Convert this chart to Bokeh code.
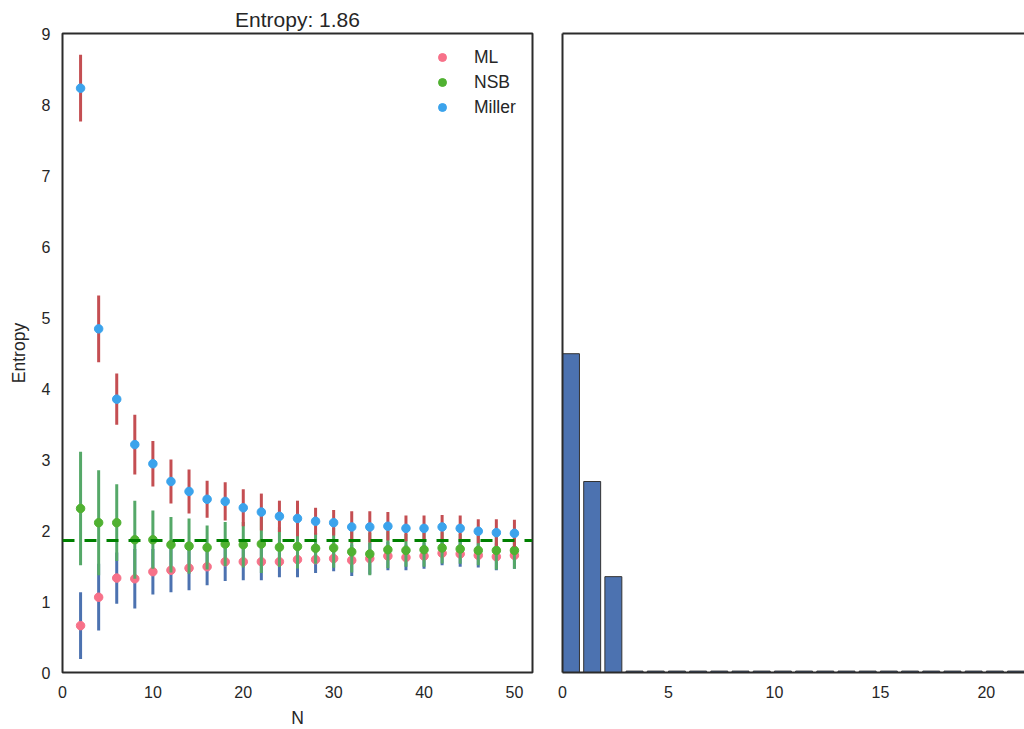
from bokeh.plotting import figure
from bokeh.models import (Range1d, Span, Legend, LegendItem, LinearAxis,
                          SingleIntervalTicker, FixedTicker, ColumnDataSource)
from bokeh.layouts import row
from bokeh.embed import file_html
from bokeh.resources import INLINE

# ---------------- data ----------------
true_entropy = 1.86
sample_sizes = [2, 4, 6, 8, 10, 12, 14, 16, 18, 20, 22, 24, 26,
                28, 30, 32, 34, 36, 38, 40, 42, 44, 46, 48, 50]
ml_mean = [0.66, 1.06, 1.33, 1.32, 1.42, 1.44, 1.47, 1.49, 1.56, 1.56, 1.56, 1.56, 1.59,
           1.59, 1.605, 1.58, 1.605, 1.64, 1.62, 1.64, 1.68, 1.67, 1.65, 1.63, 1.65]
miller_mean = [8.23, 4.84, 3.85, 3.21, 2.94, 2.69, 2.55, 2.44, 2.41, 2.32, 2.26, 2.20, 2.17,
               2.13, 2.11, 2.05, 2.05, 2.06, 2.03, 2.03, 2.05, 2.03, 1.99, 1.97, 1.96]
ml_std = [0.47, 0.47, 0.36, 0.42, 0.32, 0.31, 0.31, 0.26, 0.27, 0.26, 0.26, 0.22, 0.25,
          0.19, 0.18, 0.22, 0.22, 0.20, 0.18, 0.18, 0.17, 0.18, 0.17, 0.19, 0.19]
nsb_mean = [2.31, 2.11, 2.11, 1.87, 1.87, 1.80, 1.78, 1.76, 1.81, 1.80, 1.81, 1.765, 1.775,
            1.75, 1.755, 1.70, 1.67, 1.73, 1.72, 1.73, 1.755, 1.74, 1.72, 1.72, 1.72]
nsb_std = [0.80, 0.74, 0.54, 0.55, 0.41, 0.39, 0.39, 0.31, 0.31, 0.32, 0.41, 0.28, 0.31,
           0.22, 0.28, 0.29, 0.30, 0.26, 0.23, 0.24, 0.22, 0.21, 0.21, 0.27, 0.26]

bin_index = [0, 1, 2, 3, 4, 5, 6, 7, 8, 9, 10, 11, 12, 13, 14, 15, 16, 17, 18, 19, 20, 21, 22]
bin_height = [4.49, 2.69, 1.35, 0.02, 0.02, 0.02, 0.02, 0.02, 0.02, 0.02, 0.02,
              0.02, 0.02, 0.02, 0.02, 0.02, 0.02, 0.02, 0.02, 0.02, 0.02, 0.02, 0.02]

# ---------------- styles ----------------
FONT = "Liberation Sans"
TXT = "#262626"
SPINE = "#2b2b2b"
ERR_BLUE, ERR_RED, ERR_GREEN = "#4C72B0", "#C44E52", "#55A868"
DOT_PINK, DOT_GREEN, DOT_BLUE = "#f77189", "#50b131", "#3ba3ec"

src = ColumnDataSource(dict(
    N=sample_sizes,
    ml=ml_mean, miller=miller_mean, nsb=nsb_mean,
    ml_lo=[m - s for m, s in zip(ml_mean, ml_std)],
    ml_hi=[m + s for m, s in zip(ml_mean, ml_std)],
    mi_lo=[m - s for m, s in zip(miller_mean, ml_std)],
    mi_hi=[m + s for m, s in zip(miller_mean, ml_std)],
    nsb_lo=[m - s for m, s in zip(nsb_mean, nsb_std)],
    nsb_hi=[m + s for m, s in zip(nsb_mean, nsb_std)],
))


def style_axes(p):
    for ax in p.axis:
        ax.axis_line_color = None
        ax.major_tick_line_color = None
        ax.minor_tick_line_color = None
        ax.major_label_text_font = FONT
        ax.major_label_text_font_size = "16px"
        ax.major_label_text_color = TXT
        ax.axis_label_text_font = FONT
        ax.axis_label_text_font_size = "17.5px"
        ax.axis_label_text_font_style = "normal"
        ax.axis_label_text_color = TXT
        ax.major_label_standoff = 7
    p.grid.visible = False
    p.background_fill_color = "white"
    p.border_fill_color = "white"


# ---------------- left panel ----------------
p1 = figure(frame_width=470, frame_height=639,
            x_range=Range1d(0, 52), y_range=Range1d(0, 9),
            min_border_left=62, min_border_right=5, min_border_top=33, min_border_bottom=57,
            output_backend="svg", toolbar_location=None)
style_axes(p1)
p1.outline_line_color = SPINE
p1.outline_line_width = 2
p1.xaxis.ticker = SingleIntervalTicker(interval=10)
p1.yaxis.ticker = SingleIntervalTicker(interval=1)
p1.xaxis.axis_label = "N"
p1.yaxis.axis_label = "Entropy"
p1.yaxis.major_label_standoff = 6
p1.yaxis.axis_label_standoff = 10
p1.xaxis.axis_label_standoff = 7
p1.title.text = "Entropy: %.2f" % true_entropy
p1.title.align = "center"
p1.title.text_font = FONT
p1.title.text_font_size = "21px"
p1.title.text_font_style = "normal"
p1.title.text_color = TXT
p1.title.standoff = 6

p1.segment(x0="N", y0="ml_lo", x1="N", y1="ml_hi", source=src, line_width=3, line_color=ERR_BLUE)
r_ml = p1.scatter("N", "ml", source=src, size=8.5, fill_color=DOT_PINK, line_color=DOT_PINK)
p1.segment(x0="N", y0="nsb_lo", x1="N", y1="nsb_hi", source=src, line_width=3, line_color=ERR_GREEN)
r_nsb = p1.scatter("N", "nsb", source=src, size=8.5, fill_color=DOT_GREEN, line_color=DOT_GREEN)
p1.segment(x0="N", y0="mi_lo", x1="N", y1="mi_hi", source=src, line_width=3, line_color=ERR_RED)
r_mi = p1.scatter("N", "miller", source=src, size=8.5, fill_color=DOT_BLUE, line_color=DOT_BLUE)

p1.add_layout(Span(location=true_entropy, dimension="width", line_color="#008000",
                   line_width=3, line_dash="12 10"))

legend = Legend(items=[LegendItem(label="ML", renderers=[r_ml]),
                       LegendItem(label="NSB", renderers=[r_nsb]),
                       LegendItem(label="Miller", renderers=[r_mi])],
                location=(370, 554))
legend.border_line_color = None
legend.background_fill_alpha = 0
legend.padding = 0
legend.margin = 0
legend.spacing = 3
legend.glyph_height = 22
legend.glyph_width = 20
legend.label_height = 22
legend.label_standoff = 22
legend.label_text_font = FONT
legend.label_text_font_size = "17.5px"
legend.label_text_color = TXT
p1.add_layout(legend)

# ---------------- right panel ----------------
bsrc = ColumnDataSource(dict(x=[b + 0.4 for b in bin_index], top=bin_height))
p2 = figure(frame_width=462, frame_height=639,
            x_range=Range1d(0, 21.8), y_range=p1.y_range,
            min_border_left=25, min_border_right=0, min_border_top=33, min_border_bottom=57,
            output_backend="svg", toolbar_location=None)
style_axes(p2)
p2.outline_line_color = None
p2.xaxis.ticker = SingleIntervalTicker(interval=5)
p2.yaxis.ticker = FixedTicker(ticks=[])
p2.yaxis.major_label_standoff = 0
for ax in (p2.xaxis[0], p2.yaxis[0]):
    ax.axis_line_color = SPINE
    ax.axis_line_width = 2
top_axis = LinearAxis(ticker=FixedTicker(ticks=[]), axis_line_color=SPINE, axis_line_width=2,
                      major_tick_line_color=None, minor_tick_line_color=None,
                      major_label_standoff=0)
p2.add_layout(top_axis, "above")

p2.vbar(x="x", top="top", bottom=0, width=0.8, source=bsrc,
        fill_color=ERR_BLUE, line_color="#333333", line_width=1)

layout = row(p1, p2)
open("out.html", "w").write(file_html(layout, INLINE))
